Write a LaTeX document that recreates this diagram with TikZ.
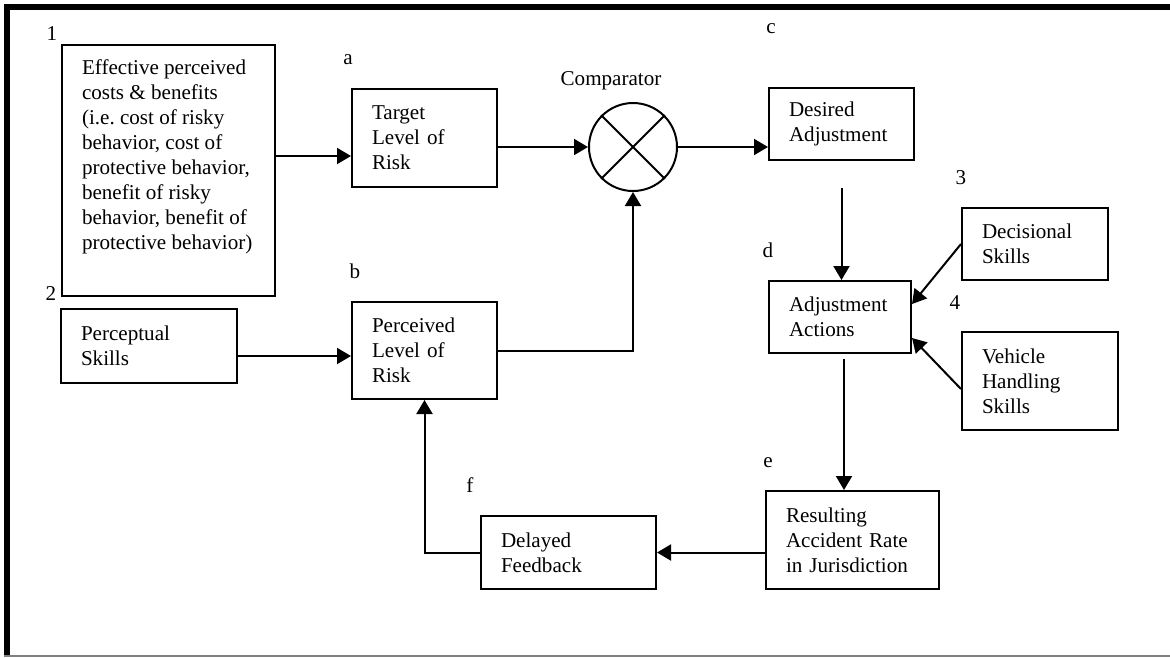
\documentclass[tikz,border=0pt]{standalone}
\usepackage{fontspec}
\setmainfont{Liberation Serif}
\usetikzlibrary{arrows.meta}
\frenchspacing

\begin{document}
\begin{tikzpicture}[x=0.2mm,y=-0.2mm]
        \tikzstyle{every node}=[font=\fontsize{12}{14.2}\selectfont]
        \tikzstyle{blk}=[draw,line width=0.4mm,anchor=north west,align=left,inner xsep=4mm,inner ysep=0pt]
        \tikzstyle{tag}=[anchor=base,inner sep=0pt]
        \tikzstyle{arr}=[line width=0.4mm,-{Triangle[length=2.8mm,width=3.2mm]}]
        \useasboundingbox (0,0) rectangle (1170,657);
        \draw[line width=1.2mm] (7,657) -- (7,7) -- (1170,7);
        \draw[gray,line width=0.3mm] (4,656) -- (1170,656);

        \node[blk,inner ysep=3mm] (eff) at (61,44) {\parbox[c][44.2mm][t]{34.6mm}{\raggedright Effective perceived\\costs \& benefits\\(i.e. cost of risky\\behavior, cost of\\protective behavior,\\benefit of risky\\behavior, benefit of\\protective behavior)}};
        \node[blk,text width=21mm,minimum height=19.6mm] (tgt) at (351,88) {Target\\Level of\\Risk};
        \node[draw,circle,line width=0.4mm,minimum size=17.6mm,inner sep=0pt] (cmp) at (633,147) {};
        \node[blk,text width=21mm,minimum height=14.4mm] (des) at (768,87) {Desired\\Adjustment};
        \node[blk,text width=27.2mm,minimum height=14.8mm] (pcs) at (60,308) {Perceptual\\Skills};
        \node[blk,text width=21mm,minimum height=19.4mm] (per) at (351,301) {Perceived\\Level of\\Risk};
        \node[blk,text width=20.4mm,minimum height=14.4mm] (adj) at (768,280) {Adjustment\\Actions};
        \node[blk,text width=21.2mm,minimum height=14.4mm] (dec) at (961,207) {Decisional\\Skills};
        \node[blk,text width=23.2mm,minimum height=19.6mm] (veh) at (961,331) {Vehicle\\Handling\\Skills};
        \node[blk,text width=26.6mm,minimum height=19.6mm] (res) at (765,490) {Resulting\\Accident Rate\\in Jurisdiction};
        \node[blk,text width=27mm,minimum height=14.6mm] (del) at (480,515) {Delayed\\Feedback};

        \node[tag] (n1) at (52,40) {1};
        \node[tag] (n2) at (51,300) {2};
        \node[tag] (n3) at (961,184) {3};
        \node[tag] (n4) at (955,309) {4};
        \node[tag] (la) at (348,64) {a};
        \node[tag] (lb) at (355,278) {b};
        \node[tag] (lc) at (771,33) {c};
        \node[tag] (ld) at (768,257) {d};
        \node[tag] (le) at (768,467) {e};
        \node[tag] (lf) at (470,492) {f};
        \node[tag] (cmpname) at (611,85) {Comparator};

        \draw[line width=0.4mm] (cmp.north west) -- (cmp.south east) (cmp.north east) -- (cmp.south west);

        \coordinate (effout) at ([yshift=2.9mm]eff.east);
        \coordinate (pcsout) at ([yshift=-2mm]pcs.east);
        \draw[arr] (effout) -- (effout -| tgt.west);
        \draw[arr] (tgt.east |- cmp.west) -- (cmp.west);
        \draw[arr] (cmp.east) -- (cmp.east -| des.west);
        \draw[arr] (pcsout) -- (pcsout -| per.west);
        \draw[arr] (per.east) -| (cmp.south);
        \draw[arr,shorten <=5.4mm] (des.south) -- (des.south |- adj.north);
        \draw[arr] (dec.west) -- ([yshift=2.6mm]adj.east);
        \draw[arr] ([yshift=-1.6mm]veh.west) -- ([yshift=-4.2mm]adj.east);
        \draw[arr,shorten <=1mm] ([xshift=0.8mm]adj.south) -- ([xshift=0.8mm]adj.south |- res.north);
        \draw[arr] (res.west |- del.east) -- (del.east);
        \draw[arr] (del.west) -| (per.south);
\end{tikzpicture}
\end{document}
